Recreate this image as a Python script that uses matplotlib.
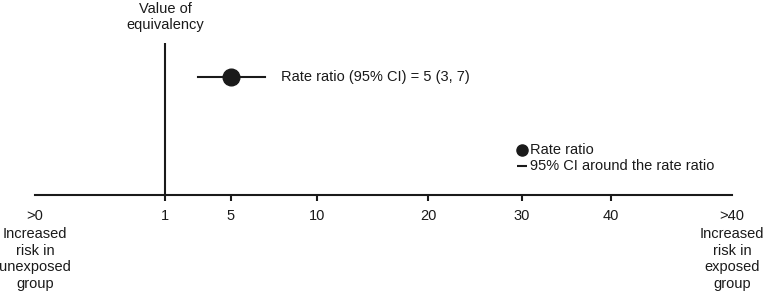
import numpy as np
import matplotlib
matplotlib.use("Agg")
import matplotlib.pyplot as plt
import matplotlib.transforms as mtransforms

plt.rcParams["font.family"] = ["Liberation Sans", "DejaVu Sans"]
plt.rcParams["font.size"] = 10.5

# dados
rate_ratio = 5
ci_low = 3
ci_high = 7
null_value = 1
tick_values = [0, 1, 5, 10, 20, 30, 40, 50]
tick_labels = [">0", "1", "5", "10", "20", "30", "40", ">40"]
legend_x = 30

# escala não linear do eixo (posição relativa de cada marca)
scale_pos = np.array([35, 165, 231, 317, 428, 522, 611, 732], dtype=float)
scale_vals = np.array(tick_values, dtype=float)


def forward(x):
    return np.interp(x, scale_vals, scale_pos)


def inverse(p):
    return np.interp(p, scale_pos, scale_vals)


ink = "#1a1a1a"
W, H = 765, 298
fig = plt.figure(figsize=(W / 100, H / 100), dpi=100)
ax = fig.add_axes([35 / W, (H - 195) / H, (732 - 35) / W, 152 / H])
ax.set_xscale("function", functions=(forward, inverse))
ax.set_xlim(0, 50)
ax.set_ylim(0, 1)

for s in ["top", "right", "left"]:
    ax.spines[s].set_visible(False)
ax.spines["bottom"].set_linewidth(1.5)
ax.spines["bottom"].set_color(ink)
ax.set_yticks([])
ax.set_xticks(tick_values)
ax.set_xticklabels(tick_labels, color=ink)
ax.tick_params(axis="x", length=4, width=1.5, color=ink, pad=6)
ax.xaxis.set_minor_locator(matplotlib.ticker.NullLocator())
ticks = ax.xaxis.get_major_ticks()
ticks[0].tick1line.set_visible(False)
ticks[-1].tick1line.set_visible(False)

# linha de equivalência
ax.axvline(null_value, ymin=0, ymax=1, color=ink, lw=1.5)

# razão de taxas com IC
y_ci = (195 - 77) / 152
ax.plot([ci_low, ci_high], [y_ci, y_ci], color=ink, lw=1.5)
ax.plot([rate_ratio], [y_ci], "o", color=ink, markersize=12)
ax.annotate(f"Rate ratio (95% CI) = {rate_ratio} ({ci_low}, {ci_high})",
            xy=(ci_high, y_ci), xytext=(11, 0), textcoords="offset points",
            va="center", ha="left", color=ink)

# legenda manual
y_leg1 = (195 - 150) / 152
y_leg2 = (195 - 166) / 152
ax.plot([legend_x], [y_leg1], "o", color=ink, markersize=8)
ax.plot([legend_x], [y_leg2], "_", color=ink, markersize=7, markeredgewidth=1.5)
ax.annotate("Rate ratio", xy=(legend_x, y_leg1), xytext=(6, 0), textcoords="offset points",
            va="center", ha="left", color=ink)
ax.annotate("95% CI around the rate ratio", xy=(legend_x, y_leg2), xytext=(6, 0),
            textcoords="offset points", va="center", ha="left", color=ink)

trans = mtransforms.blended_transform_factory(ax.transData, ax.transAxes)
ax.text(null_value, (195 - 17) / 152, "Value of\nequivalency", transform=trans,
        ha="center", va="center", multialignment="center", linespacing=1.2, color=ink)
ax.text(0, (195 - 259) / 152, "Increased\nrisk in\nunexposed\ngroup", transform=trans,
        ha="center", va="center", multialignment="center", linespacing=1.25, color=ink,
        clip_on=False)
ax.text(50, (195 - 259) / 152, "Increased\nrisk in\nexposed\ngroup", transform=trans,
        ha="center", va="center", multialignment="center", linespacing=1.25, color=ink,
        clip_on=False)

fig.savefig("out.png", dpi=100)
plt.close(fig)
